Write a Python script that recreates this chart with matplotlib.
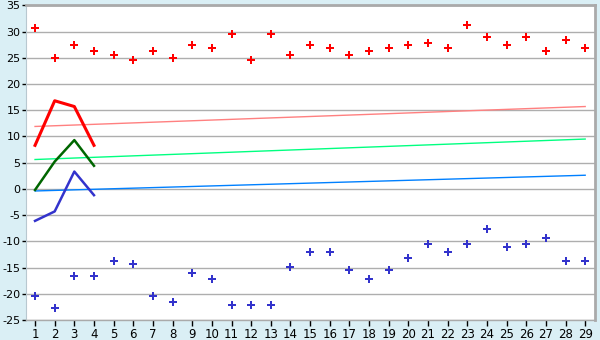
import matplotlib
matplotlib.use("Agg")
import matplotlib.pyplot as plt

x = list(range(1, 30))
red_pts = [30.6, 25.0, 27.4, 26.2, 25.6, 24.5, 26.2, 25.0, 27.4, 26.8,
           29.5, 24.5, 29.5, 25.6, 27.4, 26.8, 25.6, 26.2, 26.8, 27.4,
           27.9, 26.8, 31.2, 28.9, 27.4, 28.9, 26.2, 28.3, 26.8]
blue_pts = [-20.4, -22.7, -16.6, -16.6, -13.8, -14.3, -20.4, -21.6, -16.1, -17.2,
            -22.2, -22.2, -22.2, -14.9, -12.1, -12.1, -15.5, -17.2, -15.5, -13.2,
            -10.5, -12.1, -10.5, -7.7, -11.1, -10.5, -9.4, -13.8, -13.8]

line_x = [1, 2, 3, 4]
red_line = [8.3, 16.8, 15.7, 8.3]
green_line = [-0.2, 5.2, 9.3, 4.4]
blue_line = [-6.1, -4.3, 3.3, -1.2]

trend_x = [1, 29]
pink_trend = [11.9, 15.7]
lgreen_trend = [5.6, 9.5]
lblue_trend = [-0.4, 2.6]

yticks = list(range(-25, 40, 5))

fig = plt.figure(figsize=(6, 3.4), dpi=100)
fig.patch.set_facecolor("#DAEFF5")
ax = fig.add_axes([26/600, 1-320/340, (595-26)/600, (320-5.3)/340])
ax.set_facecolor("white")

for v in yticks:
    ax.axhline(v, color="#AEAEAE", lw=1.0, zorder=1)

ax.plot(trend_x, pink_trend, color="#FF8080", lw=1.0, zorder=2)
ax.plot(trend_x, lgreen_trend, color="#00FF80", lw=1.0, zorder=2)
ax.plot(trend_x, lblue_trend, color="#0080FF", lw=1.0, zorder=2)

ax.plot(line_x, red_line, color="#FF0000", lw=2.2, zorder=3)
ax.plot(line_x, green_line, color="#006600", lw=1.8, zorder=3)
ax.plot(line_x, blue_line, color="#3333CC", lw=1.8, zorder=3)

ax.plot(x, red_pts, linestyle="none", marker="P", ms=6, color="#FF0000",
        markeredgewidth=0, zorder=4)
ax.plot(x, blue_pts, linestyle="none", marker="P", ms=6, color="#3333CC",
        markeredgewidth=0, zorder=4)

ax.set_xlim(0.54, 29.5)
ax.set_ylim(-25, 35)
ax.set_xticks(x)
ax.set_xticklabels([str(i) for i in x])
ax.set_yticks(yticks)
ax.set_yticklabels([str(v) for v in yticks])
ax.tick_params(axis="x", direction="out", length=4, width=1, colors="black",
               labelsize=8.5, pad=2)
ax.tick_params(axis="y", direction="out", length=3, width=1, colors="black",
               labelsize=8, pad=1)

for s in ["top", "right"]:
    ax.spines[s].set_color("#AAAAAA")
    ax.spines[s].set_linewidth(2)
ax.spines["left"].set_color("#B8C8D0")
ax.spines["bottom"].set_color("#AAAAAA")
ax.spines["bottom"].set_linewidth(1.0)

fig.savefig("out.png", dpi=100, facecolor=fig.get_facecolor())
